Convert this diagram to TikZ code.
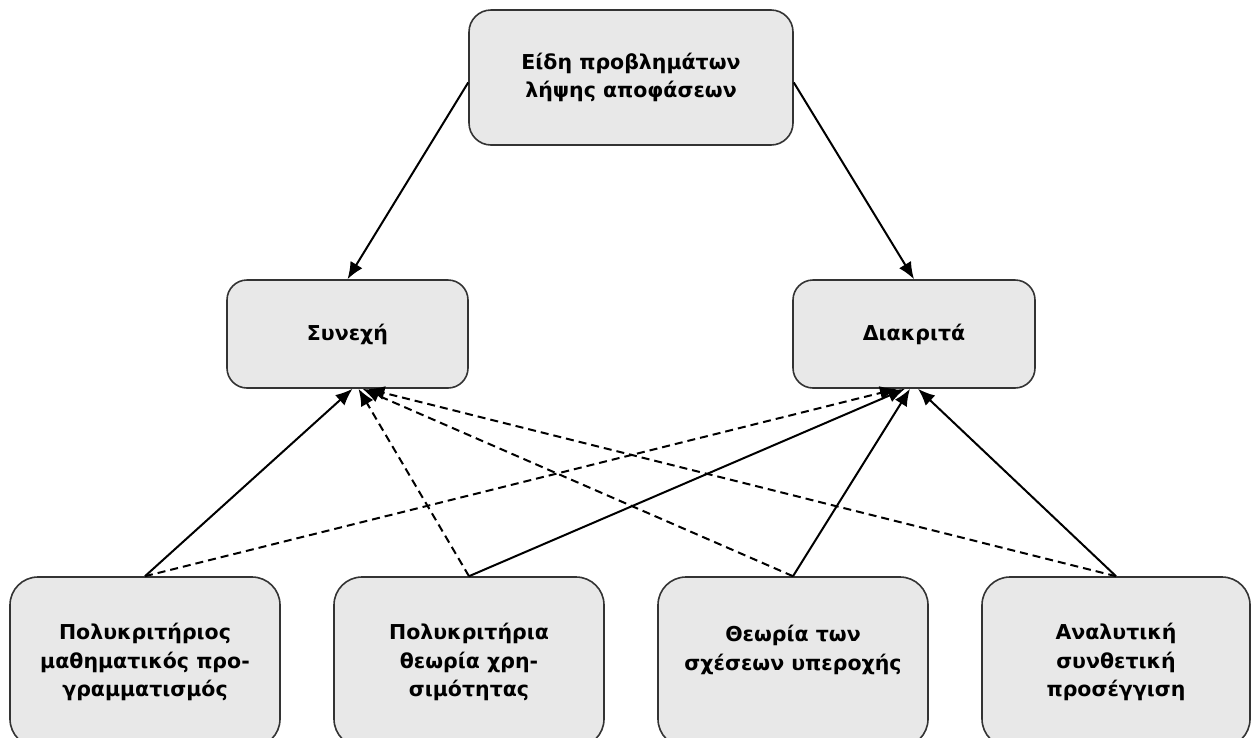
\documentclass[tikz,border=0pt]{standalone}
\usepackage{fontspec}
\setmainfont{DejaVu Sans}
\usetikzlibrary{arrows.meta}

\tikzset{
  box/.style={draw=black!80, fill=black!9, line width=1.6pt, rounded corners=22pt,
    inner sep=0pt, align=center,
    font=\bfseries\fontsize{20.5}{28.5}\selectfont},
  link/.style={line width=2pt, -{Latex[length=17pt,width=14pt]}},
  weak/.style={link, dash pattern=on 8pt off 5pt},
}

\begin{document}
\begin{tikzpicture}[x=1pt,y=-1pt]
\useasboundingbox (0,0) rectangle (1252,737);
\fill[white] (0,0) rectangle (1252,737);
\clip (0,0) rectangle (1252,737);

% top level
\node[box, minimum width=324pt, minimum height=135pt] (top) at (631,77.5)
  {Είδη προβλημάτων\\λήψης αποφάσεων};

% problem categories
\node[box, minimum width=241pt, minimum height=108pt, rounded corners=20pt] (cont) at (347.5,334)
  {Συνεχή};
\node[box, minimum width=242pt, minimum height=108pt, rounded corners=20pt] (disc) at (914,334)
  {Διακριτά};

% methods
\node[box, minimum width=270pt, minimum height=170pt, rounded corners=28pt] (m1) at (145,662)
  {Πολυκριτήριος\\μαθηματικός προ-\\γραμματισμός};
\node[box, minimum width=270pt, minimum height=170pt, rounded corners=28pt] (m2) at (469,662)
  {Πολυκριτήρια\\θεωρία χρη-\\σιμότητας};
\node[box, minimum width=270pt, minimum height=170pt, rounded corners=28pt] (m3) at (793,662)
  {Θεωρία των\\σχέσεων υπεροχής\\\mbox{}};
\node[box, minimum width=268pt, minimum height=170pt, rounded corners=28pt] (m4) at (1116,662)
  {Αναλυτική\\συνθετική\\προσέγγιση};

% hierarchy
\draw[link] (top.west) ++(0,5) -- (cont.north);
\draw[link] (top.east) ++(0,5) -- (disc.north);

% methods to categories
\draw[link] (m1.north) -- ([xshift=5pt]cont.south);
\draw[weak] (m1.north) -- ([xshift=-17pt]disc.south);
\draw[weak] (m2.north) -- ([xshift=11pt]cont.south);
\draw[link] (m2.north) -- ([xshift=-9pt]disc.south);
\draw[weak] (m3.north) -- ([xshift=15pt]cont.south);
\draw[link] (m3.north) -- ([xshift=-4pt]disc.south);
\draw[weak] (m4.north) -- ([xshift=20pt]cont.south);
\draw[link] (m4.north) -- ([xshift=4pt]disc.south);
\end{tikzpicture}
\end{document}
